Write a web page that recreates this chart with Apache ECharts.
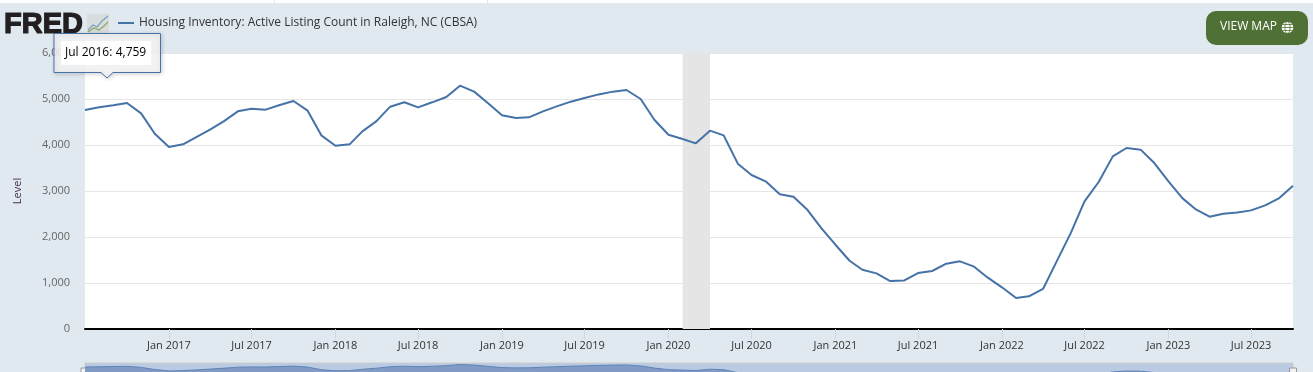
<!DOCTYPE html>
<html>
<head>
<meta charset="utf-8">
<title>Housing Inventory: Active Listing Count in Raleigh, NC (CBSA)</title>
<script src="https://cdn.jsdelivr.net/npm/echarts@6/dist/echarts.min.js"></script>
<style>
  html, body { margin: 0; padding: 0; background: #e1e9f0; }
  #chart { width: 1313px; height: 372px; }
</style>
</head>
<body>
<div id="chart"></div>
<script>
const seriesName = 'Housing Inventory: Active Listing Count in Raleigh, NC (CBSA)'
const yAxisName = 'Level'
const buttonLabel = 'VIEW MAP'

const months = [
  '2016-07', '2016-08', '2016-09', '2016-10', '2016-11', '2016-12',
  '2017-01', '2017-02', '2017-03', '2017-04', '2017-05', '2017-06',
  '2017-07', '2017-08', '2017-09', '2017-10', '2017-11', '2017-12',
  '2018-01', '2018-02', '2018-03', '2018-04', '2018-05', '2018-06',
  '2018-07', '2018-08', '2018-09', '2018-10', '2018-11', '2018-12',
  '2019-01', '2019-02', '2019-03', '2019-04', '2019-05', '2019-06',
  '2019-07', '2019-08', '2019-09', '2019-10', '2019-11', '2019-12',
  '2020-01', '2020-02', '2020-03', '2020-04', '2020-05', '2020-06',
  '2020-07', '2020-08', '2020-09', '2020-10', '2020-11', '2020-12',
  '2021-01', '2021-02', '2021-03', '2021-04', '2021-05', '2021-06',
  '2021-07', '2021-08', '2021-09', '2021-10', '2021-11', '2021-12',
  '2022-01', '2022-02', '2022-03', '2022-04', '2022-05', '2022-06',
  '2022-07', '2022-08', '2022-09', '2022-10', '2022-11', '2022-12',
  '2023-01', '2023-02', '2023-03', '2023-04', '2023-05', '2023-06',
  '2023-07', '2023-08', '2023-09', '2023-10'
]
const listings = [
  4759, 4819, 4862, 4913, 4688, 4246,
  3956, 4014, 4166, 4333, 4514, 4732,
  4790, 4768, 4870, 4956, 4746, 4210,
  3985, 4014, 4297, 4520, 4833, 4928,
  4819, 4928, 5043, 5290, 5160, 4913,
  4645, 4587, 4601, 4732, 4840, 4942,
  5022, 5100, 5160, 5196, 5000, 4550,
  4224, 4130, 4036, 4312, 4210, 3594,
  3347, 3210, 2927, 2876, 2586, 2195,
  1832, 1484, 1288, 1209, 1042, 1056,
  1217, 1261, 1420, 1471, 1355, 1116,
  906, 674, 710, 870, 1471, 2090,
  2775, 3195, 3753, 3935, 3899, 3608,
  3210, 2840, 2608, 2441, 2506, 2535,
  2579, 2688, 2847, 3115
]
const tickMonths = [
  '2017-01', '2017-07', '2018-01', '2018-07', '2019-01', '2019-07', '2020-01',
  '2020-07', '2021-01', '2021-07', '2022-01', '2022-07', '2023-01', '2023-07'
]
const recession = ['2020-02', '2020-04']

const toTime = (m) => +echarts.number.parseDate(m)
const monthLabel = (t) => echarts.time.format(t, '{MMM} {yyyy}', false)
const linePoints = months.map((m, i) => [toTime(m), listings[i]])
const xMin = toTime(months[0])
const xMax = toTime(months[months.length - 1])

const chart = echarts.init(document.getElementById('chart'), null, { renderer: 'canvas' })

const font = '"Open Sans", sans-serif'
const lineColor = '#4572a7'
const green = '#4f7136'

const option = {
  backgroundColor: '#e1e9f0',
  animation: false,
  textStyle: { fontFamily: font },
  legend: {
    data: [seriesName],
    left: 118,
    top: 17,
    padding: 0,
    itemWidth: 16,
    itemHeight: 2,
    icon: 'rect',
    selectedMode: false,
    textStyle: { color: '#333', fontSize: 12, fontFamily: font }
  },
  grid: [
    { left: 85, right: 20, top: 53, bottom: 43, show: true, backgroundColor: '#fff', borderWidth: 0, outerBoundsMode: 'none' },
    { left: 85, right: 20, top: 363, bottom: -18, show: true, backgroundColor: '#bacae3', borderColor: '#ccc', borderWidth: 1, outerBoundsMode: 'none' }
  ],
  xAxis: [
    {
      type: 'value',
      gridIndex: 0,
      min: xMin,
      max: xMax,
      axisLine: { onZero: false, lineStyle: { color: '#000', width: 2 } },
      axisTick: {
        length: 10,
        lineStyle: { color: '#ccd6eb' },
        customValues: tickMonths.map(toTime)
      },
      axisLabel: {
        color: '#333',
        fontSize: 11,
        margin: 11,
        hideOverlap: false,
        customValues: tickMonths.map(toTime),
        formatter: (v) => monthLabel(v)
      },
      splitLine: { show: false }
    },
    {
      type: 'value',
      gridIndex: 1,
      min: xMin,
      max: xMax,
      show: false
    }
  ],
  yAxis: [
    {
      type: 'value',
      gridIndex: 0,
      min: 0,
      max: 6000,
      interval: 1000,
      name: yAxisName,
      nameLocation: 'middle',
      nameRotate: 90,
      nameGap: 62,
      nameTextStyle: { color: '#4a2f4f', fontSize: 11 },
      axisLine: { show: false },
      axisTick: { show: false },
      axisLabel: { color: '#666', fontSize: 11, margin: 15, padding: [2, 0, 0, 0] },
      splitLine: { lineStyle: { color: '#e6e6e6', width: 1 } }
    },
    { type: 'value', gridIndex: 1, min: 0, max: 5600, show: false, splitLine: { show: false } }
  ],
  series: [
    {
      name: seriesName,
      type: 'line',
      xAxisIndex: 0,
      yAxisIndex: 0,
      data: linePoints,
      showSymbol: false,
      lineStyle: { color: lineColor, width: 2 },
      itemStyle: { color: lineColor },
      markArea: {
        silent: true,
        itemStyle: { color: '#e5e5e5' },
        data: [[{ xAxis: toTime(recession[0]) }, { xAxis: toTime(recession[1]) }]]
      }
    },
    {
      name: 'navigator',
      type: 'line',
      xAxisIndex: 1,
      yAxisIndex: 1,
      data: linePoints,
      showSymbol: false,
      silent: true,
      lineStyle: { color: '#5f83b6', width: 1 },
      areaStyle: { color: '#7f9bc6', opacity: 1 }
    }
  ],
  graphic: [
    // white strip of the page above the chart
    { type: 'rect', shape: { x: 0, y: 0, width: 1313, height: 3 }, style: { fill: '#fff' } },
    { type: 'rect', shape: { x: 274, y: 0, width: 1, height: 3 }, style: { fill: '#e6e6e6' } },
    { type: 'rect', shape: { x: 487, y: 0, width: 1, height: 3 }, style: { fill: '#e6e6e6' } },

    // FRED logo
    {
      type: 'text',
      x: 4,
      y: 10,
      style: {
        text: 'FRED',
        fill: '#231f20',
        stroke: '#231f20',
        lineWidth: 1.2,
        font: 'bold 29px "Liberation Sans", sans-serif'
      }
    },
    { type: 'rect', shape: { x: 87, y: 14, width: 22, height: 19 }, style: { fill: '#d9dcdc' } },
    { type: 'polyline', shape: { points: [[88, 30], [93, 25], [97, 27], [102, 21], [108, 16]] }, style: { stroke: '#7c9fbd', lineWidth: 1.2, fill: null } },
    { type: 'polyline', shape: { points: [[88, 32], [94, 28], [99, 30], [104, 26], [108, 22]] }, style: { stroke: '#8aa86a', lineWidth: 1.2, fill: null } },

    // view map button
    { type: 'rect', shape: { x: 1206, y: 11, width: 102, height: 34, r: 10 }, style: { fill: green } },
    {
      type: 'text',
      x: 1220,
      y: 21,
      style: { text: buttonLabel, fill: '#fff', font: '500 12px "Open Sans", sans-serif' }
    },
    { type: 'circle', shape: { cx: 1287.5, cy: 27.5, r: 5.8 }, style: { fill: '#fff' } },
    { type: 'ellipse', shape: { cx: 1287.5, cy: 27.5, rx: 2.6, ry: 5.8 }, style: { fill: null, stroke: green, lineWidth: 0.8 } },
    { type: 'line', shape: { x1: 1281.7, y1: 27.5, x2: 1293.3, y2: 27.5 }, style: { stroke: green, lineWidth: 0.8 } },
    { type: 'line', shape: { x1: 1282.5, y1: 24.5, x2: 1292.5, y2: 24.5 }, style: { stroke: green, lineWidth: 0.8 } },
    { type: 'line', shape: { x1: 1282.5, y1: 30.5, x2: 1292.5, y2: 30.5 }, style: { stroke: green, lineWidth: 0.8 } },

    // navigator handles
    { type: 'rect', shape: { x: 81, y: 368, width: 7, height: 10 }, style: { fill: '#f2f2f2', stroke: '#999', lineWidth: 1 } },
    { type: 'rect', shape: { x: 1289.5, y: 368, width: 7, height: 10 }, style: { fill: '#f2f2f2', stroke: '#999', lineWidth: 1 } },

    // hover callout on the first point
    {
      type: 'polygon',
      z: 20,
      shape: { points: [[54, 33.5], [160.5, 33.5], [160.5, 72.5], [113, 72.5], [107, 78], [101, 72.5], [54, 72.5]] },
      style: {
        fill: 'rgba(247,247,247,0.85)',
        stroke: lineColor,
        lineWidth: 1,
        shadowBlur: 4,
        shadowColor: 'rgba(0,0,0,0.2)',
        shadowOffsetX: 1,
        shadowOffsetY: 1
      }
    },
    {
      type: 'text',
      z: 21,
      x: 61,
      y: 41,
      style: {
        text: '{b|' + monthLabel(toTime(months[0])) + ':} {v|' + listings[0].toLocaleString('en-US') + '}',
        backgroundColor: 'rgba(255,255,255,0.9)',
        padding: [6, 5, 6, 4],
        rich: {
          b: { fontFamily: font, fontSize: 12, fontWeight: 500, color: '#444' },
          v: { fontFamily: font, fontSize: 12, color: '#555' }
        }
      }
    }
  ]
}

chart.setOption(option)
</script>
</body>
</html>
